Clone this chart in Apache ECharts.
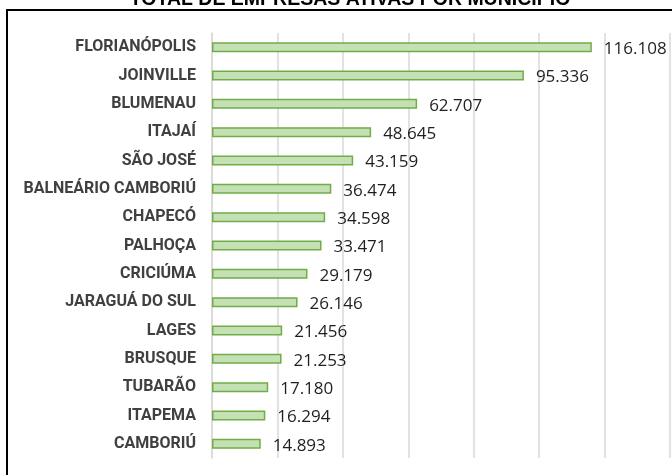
<!DOCTYPE html>
<html>
<head>
<meta charset="utf-8">
<script src="https://cdn.jsdelivr.net/npm/echarts@6/dist/echarts.min.js"></script>
<style>
  html, body { margin: 0; padding: 0; background: #fff; }
  #chart { width: 672px; height: 475px; }
</style>
</head>
<body>
<div id="chart"></div>
<script>
    // municípios e total de empresas ativas
    var cities = ['FLORIANÓPOLIS', 'JOINVILLE', 'BLUMENAU', 'ITAJAÍ', 'SÃO JOSÉ',
        'BALNEÁRIO CAMBORIÚ', 'CHAPECÓ', 'PALHOÇA', 'CRICIÚMA', 'JARAGUÁ DO SUL',
        'LAGES', 'BRUSQUE', 'TUBARÃO', 'ITAPEMA', 'CAMBORIÚ'];
    var empresas = [116108, 95336, 62707, 48645, 43159, 36474, 34598, 33471,
        29179, 26146, 21456, 21253, 17180, 16294, 14893];

    var myChart = echarts.init(document.getElementById('chart'));

    function fmt(v) {
        // separador de milhar com ponto
        return String(v).replace(/\B(?=(\d{3})+(?!\d))/g, '.');
    }

    var option = {
        animation: false,
        graphic: [
            {
                // título cortado no topo, como na imagem original
                type: 'text',
                silent: true,
                style: {
                    text: 'TOTAL DE EMPRESAS ATIVAS POR MUNICÍPIO',
                    x: 350,
                    y: -10,
                    align: 'center',
                    verticalAlign: 'top',
                    font: 'bold 19.5px "Liberation Sans"',
                    fill: '#000'
                }
            },
            {
                type: 'rect',
                shape: {x: 7, y: 10, width: 700, height: 500},
                style: {fill: 'none', stroke: '#000', lineWidth: 2},
                silent: true
            }
        ],
        grid: {
            left: 212,
            right: 2,
            top: 33,
            bottom: 17
        },
        xAxis: {
            type: 'value',
            min: 0,
            max: 140000,
            interval: 20000,
            axisLabel: {show: false},
            axisLine: {show: false},
            axisTick: {show: false},
            splitLine: {lineStyle: {color: '#d9d9d9', width: 1.5}}
        },
        yAxis: {
            type: 'category',
            inverse: true,
            data: cities,
            axisTick: {show: false},
            axisLine: {lineStyle: {color: '#d9d9d9', width: 1.5}},
            axisLabel: {
                margin: 16,
                fontFamily: 'Roboto',
                fontWeight: 'bold',
                fontSize: 16,
                color: '#404040'
            }
        },
        series: [
            {
                type: 'bar',
                data: empresas,
                barWidth: 10,
                itemStyle: {
                    color: '#c5e0b4',
                    borderColor: '#70ad47',
                    borderWidth: 1.5
                },
                label: {
                    show: true,
                    position: 'right',
                    distance: 12,
                    offset: [0, 2],
                    fontFamily: 'Open Sans',
                    fontSize: 17,
                    color: '#1f1f1f',
                    formatter: function (p) { return fmt(p.value); }
                }
            }
        ]
    };

    myChart.setOption(option);
</script>
</body>
</html>
